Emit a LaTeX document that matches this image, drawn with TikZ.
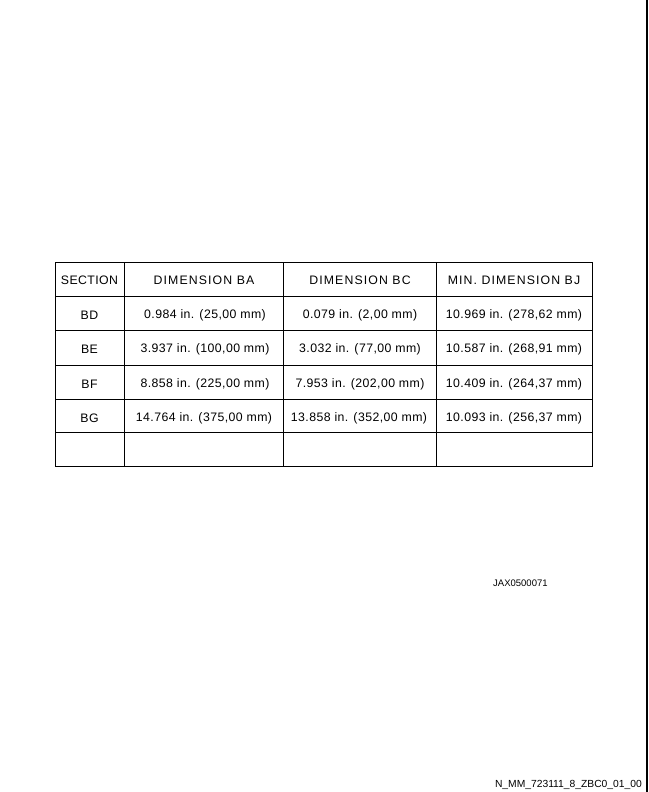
\documentclass[tikz,border=0pt]{standalone}
\usepackage{fontspec}
\setmainfont{Liberation Sans}
\usetikzlibrary{positioning}
\tikzset {
  grid line/.style = {
    draw = black,
    line width = 0.7pt
  },
  % right border of the sheet
  sheet edge/.style = {
    draw = black,
    line width = 1.2pt
  },
  % text in a table cell
  cell/.style = {
    inner sep = 0,
    font = \fontsize{12.3}{14}\selectfont\addfontfeature{LetterSpace=3.5}
  },
  % header cell
  head/.style = {
    cell,
    font = \fontsize{12.3}{14}\selectfont\addfontfeature{LetterSpace=9}
  },
  % drawing reference
  ref/.style = {
    inner sep = 0,
    font = \fontsize{9.5}{11}\selectfont
  }
}

\begin{document}
\begin{tikzpicture}[x=1pt, y=-1pt]
    \useasboundingbox (0,0) rectangle (648,792);

    % table frame and rules
    \draw[grid line] (55,262) rectangle (592,466);
    \draw[grid line] (124,262) -- (124,466);
    \draw[grid line] (283,262) -- (283,466);
    \draw[grid line] (436,262) -- (436,466);
    \draw[grid line] (55,296) -- (592,296);
    \draw[grid line] (55,330.5) -- (592,330.5);
    \draw[grid line] (55,365) -- (592,365);
    \draw[grid line] (55,399.5) -- (592,399.5);
    \draw[grid line] (55,432) -- (592,432);

    % header
    \node[cell] (section) at (89.5,280) {SECTION};
    \node[head] (dim-ba) at (204,280) {DIMENSION BA};
    \node[head] (dim-bc) at (360,280) {DIMENSION BC};
    \node[head] (dim-bj) at (514,280) {MIN. DIMENSION BJ};

    % rows
    \node[cell] (bd) at (89.5,315) {BD};
    \node[cell] (bd-ba) at (205,315) {0.984 in. (25,00 mm)};
    \node[cell] (bd-bc) at (360,315) {0.079 in. (2,00 mm)};
    \node[cell] (bd-bj) at (514,315) {10.969 in. (278,62 mm)};

    \node[cell] (be) at (89.5,349.5) {BE};
    \node[cell] (be-ba) at (205,349.5) {3.937 in. (100,00 mm)};
    \node[cell] (be-bc) at (360,349.5) {3.032 in. (77,00 mm)};
    \node[cell] (be-bj) at (514,349.5) {10.587 in. (268,91 mm)};

    \node[cell] (bf) at (89.5,384.5) {BF};
    \node[cell] (bf-ba) at (205,384.5) {8.858 in. (225,00 mm)};
    \node[cell] (bf-bc) at (360,384.5) {7.953 in. (202,00 mm)};
    \node[cell] (bf-bj) at (514,384.5) {10.409 in. (264,37 mm)};

    \node[cell] (bg) at (89.5,418) {BG};
    \node[cell] (bg-ba) at (204,418) {14.764 in. (375,00 mm)};
    \node[cell] (bg-bc) at (359,418) {13.858 in. (352,00 mm)};
    \node[cell] (bg-bj) at (514,418) {10.093 in. (256,37 mm)};

    % references
    \node[ref, anchor=west] (jax) at (493,583) {JAX0500071};
    \node[ref, anchor=east, font=\fontsize{10.3}{12}\selectfont] (sheet-id) at (642,785) {N\_MM\_723111\_8\_ZBC0\_01\_00};

    \draw[sheet edge] (647,0) -- (647,792);
\end{tikzpicture}
\end{document}
